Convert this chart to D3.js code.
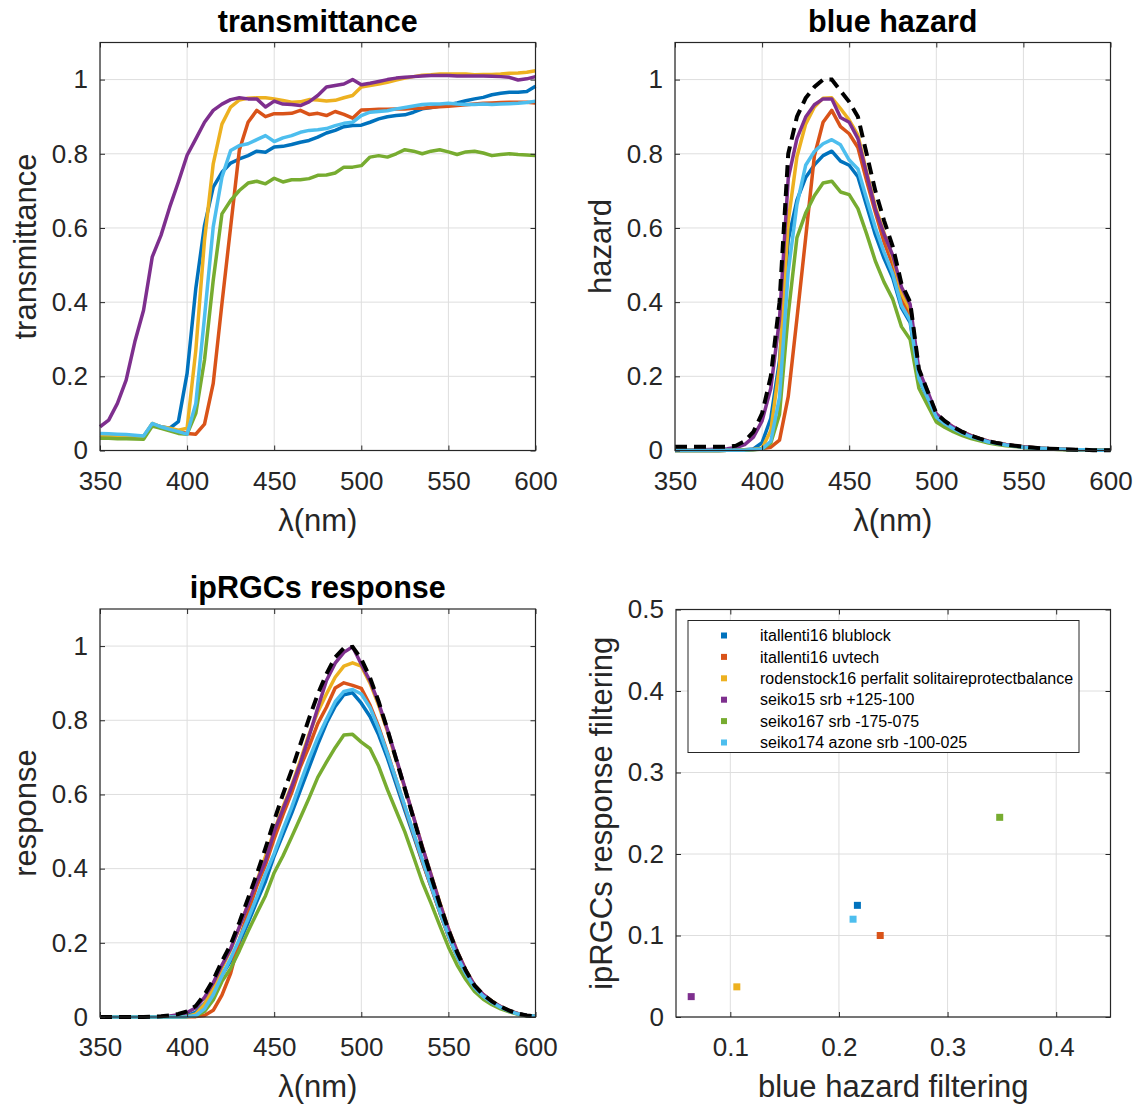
<!DOCTYPE html>
<html lang="en">
<head>
<meta charset="UTF-8">
<title>Lens filtering: transmittance, blue hazard, ipRGCs</title>
<script src="https://d3js.org/d3.v7.min.js"></script>
<style>
  body, html { margin: 0; padding: 0; background: #fff; overflow: hidden; }
  svg text { font-family: "Liberation Sans", Arial, Helvetica, sans-serif; }
  .tick text { fill: #262626; font-size: 26px; }
  .title { font-weight: bold; font-size: 30.5px; fill: #000; }
  .label { font-size: 31px; fill: #262626; }
  .legend text { font-size: 16px; fill: #000; }
</style>
</head>
<body>
<svg id="fig" width="1136" height="1105"></svg>
<script>
// ---- data ----
var wavelength = [350,355,360,365,370,375,380,385,390,395,400,405,410,415,420,425,430,435,440,445,
  450,455,460,465,470,475,480,485,490,495,500,505,510,515,520,525,530,535,540,545,
  550,555,560,565,570,575,580,585,590,595,600];

var lensNames = ["itallenti16 blublock", "itallenti16 uvtech", "rodenstock16 perfalit solitaireprotectbalance",
  "seiko15 srb +125-100", "seiko167 srb -175-075", "seiko174 azone srb -100-025"];
var lensColors = ["#0072BD", "#D95319", "#EDB120", "#7E2F8E", "#77AC30", "#4DBEEE"];

// transmittance
var transBlublock = [0.042,0.041,0.040,0.039,0.038,0.036,0.071,0.064,0.060,0.078,
  0.208,0.437,0.607,0.710,0.750,0.775,0.786,0.795,0.807,0.804,
  0.818,0.820,0.825,0.831,0.836,0.845,0.856,0.863,0.873,0.876,
  0.877,0.885,0.894,0.900,0.903,0.905,0.912,0.921,0.925,0.929,
  0.932,0.937,0.943,0.948,0.952,0.959,0.963,0.966,0.966,0.968,0.982];
var transUvtech = [0.040,0.040,0.039,0.039,0.038,0.037,0.069,0.061,0.057,0.052,
  0.046,0.044,0.071,0.181,0.396,0.603,0.810,0.885,0.917,0.900,
  0.908,0.908,0.909,0.917,0.906,0.909,0.903,0.914,0.906,0.896,
  0.918,0.919,0.920,0.920,0.921,0.921,0.923,0.923,0.925,0.927,
  0.928,0.930,0.932,0.934,0.936,0.937,0.938,0.939,0.939,0.939,0.937];
var transPerfalit = [0.042,0.041,0.041,0.040,0.039,0.037,0.073,0.064,0.060,0.055,
  0.060,0.270,0.567,0.773,0.880,0.926,0.945,0.950,0.951,0.951,
  0.948,0.944,0.939,0.940,0.946,0.945,0.942,0.944,0.951,0.957,
  0.980,0.984,0.988,0.993,0.999,1.004,1.008,1.012,1.013,1.015,
  1.015,1.015,1.015,1.013,1.014,1.014,1.015,1.017,1.018,1.020,1.024];
var transSeiko15 = [0.064,0.082,0.127,0.190,0.293,0.378,0.522,0.580,0.656,0.724,
  0.796,0.840,0.885,0.917,0.934,0.946,0.951,0.948,0.948,0.926,
  0.942,0.934,0.933,0.930,0.940,0.957,0.980,0.984,0.988,1.000,
  0.986,0.990,0.995,1.000,1.004,1.006,1.008,1.010,1.011,1.011,
  1.011,1.010,1.010,1.010,1.010,1.009,1.008,1.006,0.999,1.002,1.008];
var transSeiko167 = [0.033,0.033,0.032,0.032,0.031,0.030,0.066,0.060,0.053,0.046,
  0.044,0.100,0.244,0.459,0.638,0.674,0.701,0.721,0.726,0.719,
  0.734,0.724,0.730,0.730,0.733,0.742,0.743,0.748,0.764,0.764,
  0.768,0.791,0.795,0.791,0.800,0.811,0.807,0.800,0.807,0.811,
  0.805,0.798,0.805,0.807,0.802,0.795,0.798,0.800,0.798,0.797,0.795];
var transSeiko174 = [0.046,0.045,0.044,0.043,0.041,0.039,0.073,0.064,0.057,0.051,
  0.044,0.127,0.360,0.603,0.737,0.809,0.822,0.827,0.838,0.849,
  0.833,0.843,0.849,0.858,0.863,0.865,0.868,0.876,0.882,0.885,
  0.903,0.912,0.914,0.916,0.921,0.925,0.929,0.933,0.934,0.934,
  0.936,0.934,0.933,0.933,0.934,0.933,0.934,0.935,0.936,0.938,0.942];

// blue hazard
var hazardRef = [0.010,0.010,0.010,0.010,0.010,0.010,0.010,0.013,0.025,0.050,
  0.100,0.200,0.400,0.800,0.900,0.950,0.980,1.000,1.000,0.970,
  0.940,0.900,0.800,0.700,0.620,0.550,0.450,0.400,0.220,0.160,
  0.100,0.079,0.063,0.050,0.040,0.032,0.025,0.020,0.016,0.013,
  0.010,0.008,0.006,0.005,0.004,0.003,0.002,0.002,0.001,0.001,0.001];
var hazardBlublock = [0,0,0,0,0,0,0.001,0.001,0.002,0.004,
  0.021,0.087,0.243,0.568,0.675,0.736,0.770,0.795,0.807,0.780,
  0.769,0.738,0.660,0.582,0.518,0.465,0.385,0.345,0.192,0.140,
  0.088,0.070,0.056,0.045,0.036,0.029,0.023,0.018,0.015,0.012,
  0.009,0.007,0.006,0.005,0.004,0.003,0.002,0.002,0.001,0.001,0.001];
var hazardUvtech = [0,0,0,0,0,0,0.001,0.001,0.001,0.003,
  0.005,0.009,0.028,0.145,0.356,0.573,0.794,0.885,0.917,0.873,
  0.854,0.817,0.727,0.642,0.562,0.500,0.406,0.366,0.199,0.143,
  0.092,0.073,0.058,0.046,0.037,0.029,0.023,0.018,0.015,0.012,
  0.009,0.007,0.006,0.005,0.004,0.003,0.002,0.002,0.001,0.001,0.001];
var hazardPerfalit = [0,0,0,0,0,0,0.001,0.001,0.002,0.003,
  0.006,0.054,0.227,0.618,0.792,0.880,0.926,0.950,0.951,0.922,
  0.891,0.850,0.751,0.658,0.587,0.520,0.424,0.378,0.209,0.153,
  0.098,0.078,0.062,0.050,0.040,0.032,0.025,0.020,0.016,0.013,
  0.010,0.008,0.006,0.005,0.004,0.003,0.002,0.002,0.001,0.001,0.001];
var hazardSeiko15 = [0.001,0.001,0.001,0.002,0.003,0.004,0.005,0.008,0.016,0.036,
  0.080,0.168,0.354,0.734,0.841,0.899,0.932,0.948,0.948,0.898,
  0.885,0.841,0.746,0.651,0.583,0.526,0.441,0.394,0.217,0.160,
  0.099,0.078,0.063,0.050,0.040,0.032,0.025,0.020,0.016,0.013,
  0.010,0.008,0.006,0.005,0.004,0.003,0.002,0.002,0.001,0.001,0.001];
var hazardSeiko167 = [0,0,0,0,0,0,0.001,0.001,0.001,0.002,
  0.004,0.020,0.098,0.367,0.574,0.640,0.687,0.721,0.726,0.697,
  0.690,0.652,0.584,0.511,0.454,0.408,0.334,0.299,0.168,0.122,
  0.077,0.062,0.050,0.040,0.032,0.026,0.020,0.016,0.013,0.011,
  0.008,0.006,0.005,0.004,0.003,0.002,0.002,0.002,0.001,0.001,0.001];
var hazardSeiko174 = [0,0,0,0,0,0,0.001,0.001,0.001,0.003,
  0.004,0.025,0.144,0.482,0.663,0.769,0.806,0.827,0.838,0.824,
  0.783,0.759,0.679,0.601,0.535,0.476,0.391,0.350,0.194,0.142,
  0.090,0.072,0.058,0.046,0.037,0.030,0.023,0.019,0.015,0.012,
  0.009,0.007,0.006,0.005,0.004,0.003,0.002,0.002,0.001,0.001,0.001];

// ipRGCs response
var responseRef = [0,0,0,0,0,0,0.001,0.002,0.004,0.008,
  0.015,0.030,0.060,0.100,0.150,0.195,0.255,0.320,0.385,0.455,
  0.530,0.600,0.665,0.735,0.805,0.870,0.925,0.970,0.995,0.998,
  0.965,0.915,0.850,0.775,0.695,0.615,0.535,0.455,0.380,0.305,
  0.235,0.175,0.125,0.085,0.060,0.042,0.028,0.017,0.009,0.004,0.002];
var responseBlublock = [0,0,0,0,0,0,0,0,0,0.001,
  0.003,0.013,0.036,0.071,0.113,0.151,0.200,0.254,0.311,0.366,
  0.434,0.492,0.549,0.611,0.673,0.735,0.792,0.837,0.869,0.874,
  0.846,0.810,0.760,0.698,0.628,0.557,0.488,0.419,0.352,0.283,
  0.219,0.164,0.118,0.081,0.057,0.040,0.027,0.016,0.009,0.004,0.002];
var responseUvtech = [0,0,0,0,0,0,0,0,0,0,
  0.001,0.001,0.004,0.018,0.059,0.118,0.207,0.283,0.353,0.410,
  0.481,0.545,0.604,0.674,0.729,0.791,0.835,0.887,0.901,0.894,
  0.886,0.841,0.782,0.713,0.640,0.566,0.494,0.420,0.352,0.283,
  0.218,0.163,0.117,0.079,0.056,0.039,0.026,0.016,0.008,0.004,0.002];
var responsePerfalit = [0,0,0,0,0,0,0,0,0,0,
  0.001,0.008,0.034,0.077,0.132,0.181,0.241,0.304,0.366,0.433,
  0.502,0.566,0.624,0.691,0.762,0.822,0.871,0.916,0.946,0.955,
  0.946,0.900,0.840,0.770,0.694,0.617,0.539,0.460,0.385,0.310,
  0.239,0.178,0.127,0.086,0.061,0.043,0.028,0.017,0.009,0.004,0.002];
var responseSeiko15 = [0,0,0,0,0,0,0.001,0.001,0.003,0.006,
  0.012,0.025,0.053,0.092,0.140,0.184,0.243,0.303,0.365,0.421,
  0.499,0.560,0.620,0.684,0.757,0.833,0.907,0.954,0.983,0.998,
  0.951,0.906,0.846,0.775,0.698,0.619,0.539,0.460,0.384,0.308,
  0.238,0.177,0.126,0.086,0.061,0.042,0.028,0.017,0.009,0.004,0.002];
var responseSeiko167 = [0,0,0,0,0,0,0,0,0,0,
  0.001,0.003,0.015,0.046,0.096,0.131,0.179,0.231,0.280,0.327,
  0.389,0.434,0.485,0.537,0.590,0.646,0.687,0.726,0.760,0.762,
  0.741,0.724,0.676,0.613,0.556,0.499,0.432,0.364,0.307,0.247,
  0.189,0.140,0.101,0.069,0.048,0.033,0.022,0.014,0.007,0.003,0.002];
var responseSeiko174 = [0,0,0,0,0,0,0,0,0,0,
  0.001,0.004,0.022,0.060,0.111,0.158,0.210,0.265,0.323,0.386,
  0.441,0.506,0.565,0.631,0.695,0.753,0.803,0.850,0.878,0.883,
  0.871,0.834,0.777,0.710,0.640,0.569,0.497,0.425,0.355,0.285,
  0.220,0.163,0.117,0.079,0.056,0.039,0.026,0.016,0.008,0.004,0.002];

// filtering summary (one point per lens)
var blueHazardFiltering = [0.217, 0.238, 0.106, 0.064, 0.348, 0.213];
var ipRGCsFiltering     = [0.137, 0.100, 0.037, 0.025, 0.245, 0.120];

// tick labels
var wlTicks = [350, 400, 450, 500, 550, 600];
var unitTicks = [0, 0.2, 0.4, 0.6, 0.8, 1];
var filtXTicks = [0.1, 0.2, 0.3, 0.4];
var filtYTicks = [0, 0.1, 0.2, 0.3, 0.4, 0.5];

var transAll = [transBlublock, transUvtech, transPerfalit, transSeiko15, transSeiko167, transSeiko174];
var hazardAll = [hazardBlublock, hazardUvtech, hazardPerfalit, hazardSeiko15, hazardSeiko167, hazardSeiko174];
var responseAll = [responseBlublock, responseUvtech, responsePerfalit, responseSeiko15, responseSeiko167, responseSeiko174];

// ---- drawing ----
var svg = d3.select("#fig");
var axisColor = "#262626", gridColor = "#dedede";

function makePanel(o) {
  var g = svg.append("g").attr("transform", "translate(" + o.left + "," + o.top + ")");
  var x = d3.scaleLinear().domain(o.xDomain).range([0, o.w]);
  var y = d3.scaleLinear().domain(o.yDomain).range([o.h, 0]);

  // grid
  g.append("g").selectAll("line").data(o.xTicks).join("line")
    .attr("x1", d => x(d)).attr("x2", d => x(d)).attr("y1", 0).attr("y2", o.h)
    .attr("stroke", gridColor).attr("stroke-width", 1);
  g.append("g").selectAll("line").data(o.yTicks).join("line")
    .attr("x1", 0).attr("x2", o.w).attr("y1", d => y(d)).attr("y2", d => y(d))
    .attr("stroke", gridColor).attr("stroke-width", 1);

  var plot = g.append("g");

  // axes with inward ticks
  var fmt = d => String(d);
  var ax = g.append("g").attr("transform", "translate(0," + o.h + ")")
    .call(d3.axisBottom(x).tickValues(o.xTicks).tickFormat(fmt).tickSize(-5).tickPadding(21));
  var ay = g.append("g")
    .call(d3.axisLeft(y).tickValues(o.yTicks).tickFormat(fmt).tickSize(-5).tickPadding(12));
  var at = g.append("g")
    .call(d3.axisTop(x).tickValues(o.xTicks).tickFormat("").tickSize(-5));
  var ar = g.append("g").attr("transform", "translate(" + o.w + ",0)")
    .call(d3.axisRight(y).tickValues(o.yTicks).tickFormat("").tickSize(-5));
  [ax, ay, at, ar].forEach(a => {
    a.select(".domain").remove();
    a.selectAll(".tick line").attr("stroke", axisColor);
    a.selectAll(".tick text").attr("font-size", null).attr("font-family", null);
  });
  g.append("rect").attr("width", o.w).attr("height", o.h)
    .attr("fill", "none").attr("stroke", axisColor).attr("stroke-width", 1.2);

  if (o.title) {
    g.append("text").attr("class", "title").attr("x", o.w / 2).attr("y", -11)
      .attr("text-anchor", "middle").text(o.title);
  }
  g.append("text").attr("class", "label").attr("x", o.w / 2).attr("y", o.h + 80)
    .attr("text-anchor", "middle").text(o.xLabel);
  g.append("text").attr("class", "label")
    .attr("transform", "translate(-64," + (o.h / 2) + ") rotate(-90)")
    .attr("text-anchor", "middle").text(o.yLabel);

  return { g: g, plot: plot, x: x, y: y };
}

function drawSpectra(p, seriesList, ref) {
  var line = d3.line().x((d, i) => p.x(wavelength[i])).y(d => p.y(d));
  seriesList.forEach((vals, k) => {
    p.plot.append("path").datum(vals).attr("d", line)
      .attr("fill", "none").attr("stroke", lensColors[k])
      .attr("stroke-width", 3.5).attr("stroke-linejoin", "round");
  });
  if (ref) {
    p.plot.append("path").datum(ref).attr("d", line)
      .attr("fill", "none").attr("stroke", "#000")
      .attr("stroke-width", 4).attr("stroke-dasharray", "12,7");
  }
}

var pw = 435.5, ph = 408;

var p1 = makePanel({ left: 100, top: 42.5, w: pw, h: ph, xDomain: [350, 600], yDomain: [0, 1.1],
  xTicks: wlTicks, yTicks: unitTicks, title: "transmittance", xLabel: "λ(nm)", yLabel: "transmittance" });
drawSpectra(p1, transAll, null);

var p2 = makePanel({ left: 675, top: 42.5, w: pw, h: ph, xDomain: [350, 600], yDomain: [0, 1.1],
  xTicks: wlTicks, yTicks: unitTicks, title: "blue hazard", xLabel: "λ(nm)", yLabel: "hazard" });
drawSpectra(p2, hazardAll, hazardRef);

var p3 = makePanel({ left: 100, top: 609, w: pw, h: ph, xDomain: [350, 600], yDomain: [0, 1.1],
  xTicks: wlTicks, yTicks: unitTicks, title: "ipRGCs response", xLabel: "λ(nm)", yLabel: "response" });
drawSpectra(p3, responseAll, responseRef);

var p4 = makePanel({ left: 676, top: 609.5, w: 434.5, h: 407.5, xDomain: [0.05, 0.45], yDomain: [0, 0.5],
  xTicks: filtXTicks, yTicks: filtYTicks, title: null, xLabel: "blue hazard filtering", yLabel: "ipRGCs response filtering" });
p4.plot.selectAll("rect").data(blueHazardFiltering).join("rect")
  .attr("x", (d, i) => p4.x(d) - 3.5).attr("y", (d, i) => p4.y(ipRGCsFiltering[i]) - 3.5)
  .attr("width", 7).attr("height", 7).attr("fill", (d, i) => lensColors[i]);

// legend
var lg = p4.g.append("g").attr("class", "legend").attr("transform", "translate(12,11)");
lg.append("rect").attr("width", 391).attr("height", 132)
  .attr("fill", "#fff").attr("stroke", axisColor).attr("stroke-width", 1);
lensNames.forEach((name, i) => {
  var cy = 15 + i * 21.4;
  lg.append("rect").attr("x", 33).attr("y", cy - 3).attr("width", 6).attr("height", 6)
    .attr("fill", lensColors[i]);
  lg.append("text").attr("x", 72).attr("y", cy).attr("dy", "0.35em").text(name);
});
</script>
</body>
</html>
